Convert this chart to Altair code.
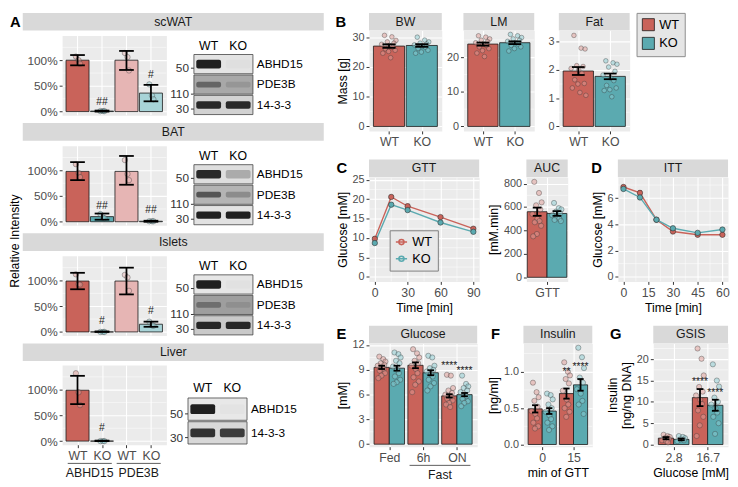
import altair as alt
import pandas as pd

FONT = "Liberation Sans"
RED, TEAL, PINK, LTEAL = "#C9635A", "#5BAAB0", "#E6B5B4", "#A8D4D8"
RED_PT, TEAL_PT = "#E09C96", "#8ACCD1"
STRIP_C, PANEL_C, LAB_C = "#D9D9D9", "#EBEBEB", "#4D4D4D"
JIT = [-0.55, 0.35, 0.85, -0.2, 0.6, -0.9, 0.05, 0.45, -0.45, 0.75, -0.05, -0.75, 0.2, 0.95, -0.3]

# ---------------- Panel A data ----------------
A_TISSUES = ["scWAT", "BAT", "Islets", "Liver"]
A_XLABELS = ["WT", "KO", "WT", "KO"]
A_GROUPS = ["ABHD15", "PDE3B"]
A_FILLS = [RED, TEAL, PINK, LTEAL]
A_PTFILLS = [RED_PT, TEAL_PT, "#E9B9B9", "#9FD0D4"]
A_MEAN = {"scWAT": [1.00, 0.01, 1.00, 0.36], "BAT": [0.98, 0.10, 0.98, 0.01],
          "Islets": [0.99, 0.00, 0.99, 0.15], "Liver": [0.99, 0.00]}
A_LO = {"scWAT": [0.90, 0.00, 0.81, 0.20], "BAT": [0.81, 0.04, 0.72, 0.00],
        "Islets": [0.83, 0.00, 0.73, 0.10], "Liver": [0.72, 0.00]}
A_HI = {"scWAT": [1.10, 0.02, 1.18, 0.52], "BAT": [1.16, 0.16, 1.28, 0.02],
        "Islets": [1.15, 0.01, 1.25, 0.20], "Liver": [1.27, 0.01]}
A_PTS = {"scWAT": [[1.07, 1.00, 0.93], [0.01, 0.01, 0.01], [1.14, 1.06, 0.80], [0.53, 0.31, 0.24]],
         "BAT": [[1.12, 0.95, 0.87], [0.15, 0.08, 0.07], [1.20, 0.93, 0.81], [0.01, 0.01, 0.01]],
         "Islets": [[1.12, 0.93, 0.92], [0.0, 0.0, 0.0], [1.11, 1.06, 0.80], [0.20, 0.13, 0.12]],
         "Liver": [[1.32, 0.95, 0.70], [0.0, 0.0, 0.0]]}
A_SIG = {"scWAT": [(2, "##", 0.19), (4, "#", 0.72)], "BAT": [(2, "##", 0.31), (4, "##", 0.22)],
         "Islets": [(2, "#", 0.22), (4, "#", 0.40)], "Liver": [(2, "#", 0.25)]}

BLOT_PROT = {"scWAT": ["ABHD15", "PDE3B", "14-3-3"], "BAT": ["ABHD15", "PDE3B", "14-3-3"],
             "Islets": ["ABHD15", "PDE3B", "14-3-3"], "Liver": ["ABHD15", "14-3-3"]}
BLOT_MW = {"ABHD15": "50", "PDE3B": "110", "14-3-3": "30"}
BLOT_WT = {"scWAT": [0.95, 0.45, 0.9], "BAT": [0.9, 0.6, 0.95], "Islets": [0.95, 0.35, 0.9], "Liver": [0.95, 0.85]}
BLOT_KO = {"scWAT": [0.02, 0.12, 0.9], "BAT": [0.25, 0.25, 0.95], "Islets": [0.02, 0.1, 0.9], "Liver": [0.02, 0.8]}
BLOT_BG = {"scWAT": ["#E4E4E4", "#A8A8A8", "#D2D2D2"], "BAT": ["#DEDEDE", "#B4B4B4", "#E2E2E2"],
           "Islets": ["#E6E6E6", "#9E9E9E", "#C9C9C9"], "Liver": ["#E8E8E8", "#D8D8D8"]}
BAND_H = {"ABHD15": 0.42, "PDE3B": 0.28, "14-3-3": 0.36}
MW_OFF = {"ABHD15": 0.3, "PDE3B": 0.03, "14-3-3": 0.3}

# ---------------- Panel B data ----------------
GENO = ["WT", "KO"]
BW_MEAN, BW_SE = [27.0, 27.2], [0.6, 0.45]
BW_WT = [30.6, 30.1, 28.9, 28.4, 28.0, 27.6, 27.2, 26.6, 26.1, 25.6, 25.2, 24.6, 23.1]
BW_KO = [30.0, 29.0, 28.4, 28.0, 27.7, 27.4, 27.0, 26.6, 26.2, 25.6, 25.0, 24.6]
LM_MEAN, LM_SE = [23.8, 24.2], [0.45, 0.4]
LM_WT = [26.2, 25.8, 25.3, 24.9, 24.5, 24.2, 23.8, 23.4, 23.0, 22.5, 21.9, 21.2, 20.2]
LM_KO = [26.6, 26.2, 25.7, 25.3, 24.9, 24.6, 24.2, 23.8, 23.4, 23.0, 22.5, 21.8]
FAT_MEAN, FAT_SE = [1.96, 1.77], [0.14, 0.10]
FAT_WT = [3.22, 2.77, 2.74, 2.15, 2.12, 2.05, 2.0, 1.88, 1.65, 1.52, 1.50, 1.36, 1.20, 1.10]
FAT_KO = [2.32, 2.25, 2.20, 2.10, 1.95, 1.82, 1.72, 1.62, 1.45, 1.36, 1.30, 1.27, 1.05]

# ---------------- Panel C / D data ----------------
GTT_T = [0, 15, 30, 60, 90]
GTT_WT, GTT_WT_SE = [9.8, 20.6, 18.2, 15.4, 12.4], [0.35, 0.4, 0.55, 0.4, 0.3]
GTT_KO, GTT_KO_SE = [8.7, 18.6, 17.2, 14.0, 11.6], [0.3, 0.45, 0.4, 0.35, 0.3]
AUC_MEAN, AUC_SE = [560, 545], [35, 20]
AUC_WT = [815, 720, 640, 615, 580, 540, 500, 480, 470, 440, 370, 350]
AUC_KO = [635, 590, 580, 560, 545, 530, 515, 500, 490, 480]
ITT_T = [0, 10, 20, 30, 45, 60]
ITT_WT, ITT_WT_SE = [6.85, 6.4, 4.35, 3.45, 3.2, 3.2], [0.12, 0.18, 0.1, 0.08, 0.06, 0.06]
ITT_KO, ITT_KO_SE = [6.7, 6.05, 4.35, 3.7, 3.35, 3.6], [0.1, 0.12, 0.1, 0.08, 0.07, 0.07]

# ---------------- Panel E / F / G data ----------------
E_CATS = ["Fed", "6h", "ON"]
E_WT_MEAN, E_WT_SE = [9.3, 9.55, 5.85], [0.2, 0.35, 0.2]
E_KO_MEAN, E_KO_SE = [9.2, 8.65, 6.0], [0.3, 0.3, 0.2]
E_WT_PTS = [[10.6, 10.3, 10.0, 9.8, 9.6, 9.5, 9.3, 9.1, 8.9, 8.6, 8.3, 8.0],
            [11.5, 11.0, 10.5, 10.1, 9.8, 9.5, 9.1, 8.6, 8.1, 7.6, 7.2, 6.3],
            [8.4, 8.3, 6.8, 6.5, 6.2, 6.0, 5.8, 5.7, 5.5, 5.3, 5.0, 4.8, 4.5]]
E_KO_PTS = [[11.1, 10.9, 10.5, 10.1, 9.8, 9.4, 9.0, 8.6, 8.2, 7.8, 7.5, 7.3],
            [10.7, 10.5, 9.5, 9.2, 9.0, 8.8, 8.5, 8.2, 7.8, 7.4, 7.0, 6.5],
            [8.3, 7.3, 7.0, 6.8, 6.5, 6.3, 6.0, 5.8, 5.5, 5.2, 5.0, 4.6]]
E_SIG = [(3, 0, "****", 9.5), (3, 1, "****", 8.9)]
F_CATS = ["0", "15"]
F_WT_MEAN, F_WT_SE = [0.49, 0.70], [0.05, 0.07]
F_KO_MEAN, F_KO_SE = [0.46, 0.82], [0.04, 0.08]
F_WT_PTS = [[0.85, 0.72, 0.65, 0.60, 0.52, 0.46, 0.42, 0.36, 0.30, 0.25, 0.22],
            [1.13, 1.00, 0.95, 0.90, 0.84, 0.74, 0.62, 0.55, 0.50, 0.45, 0.38]]
F_KO_PTS = [[0.70, 0.68, 0.62, 0.55, 0.50, 0.45, 0.40, 0.35, 0.30, 0.25, 0.20],
            [1.33, 1.20, 1.05, 0.92, 0.85, 0.76, 0.70, 0.60, 0.55, 0.42]]
F_SIG = [(2, 0, "**", 1.0), (2, 1, "****", 1.07)]
G_CATS = ["2.8", "16.7"]
G_WT_MEAN, G_WT_SE = [1.5, 11.0], [0.25, 2.0]
G_KO_MEAN, G_KO_SE = [1.2, 9.2], [0.2, 1.3]
G_WT_PTS = [[2.3, 2.0, 1.8, 1.5, 1.3, 1.0, 0.8, 0.5],
            [22.5, 20.1, 16.2, 13.5, 12.4, 11.5, 10.5, 9.5, 8.0, 6.5, 4.5, 2.0]]
G_KO_PTS = [[2.0, 1.8, 1.5, 1.2, 1.0, 0.8],
            [18.8, 15.0, 13.6, 11.0, 10.0, 9.4, 8.5, 7.5, 6.5, 5.0, 2.5]]
G_SIG = [(2, 0, "****", 14.7), (2, 1, "****", 12.1)]


# ---------------- helpers ----------------
def lab_expr(vals, labs):
    s = "''"
    for v, l in reversed(list(zip(vals, labs))):
        s = f"datum.value == {v} ? '{l}' : ({s})"
    return s


def qx(field, dom, axis=None):
    return alt.X(f"{field}:Q", scale=alt.Scale(domain=dom, nice=False, zero=False), axis=axis)


def qy(field, dom, axis=None):
    return alt.Y(f"{field}:Q", scale=alt.Scale(domain=dom, nice=False, zero=False), axis=axis)


def make_bars(xs, means, los, his, fills, half, cap, groups=None):
    rows = []
    for i, (x, m, lo, hi, f) in enumerate(zip(xs, means, los, his, fills)):
        r = dict(x=x, x1=x - half, x2=x + half, mean=m, lo=lo, hi=hi,
                 c1=x - cap, c2=x + cap, zero=0, fill=f)
        if groups:
            r["g"] = groups[i]
        rows.append(r)
    return pd.DataFrame(rows)


def make_pts(xs, lists, fills, spread):
    rows = []
    for x, vals, f in zip(xs, lists, fills):
        for k, v in enumerate(vals):
            rows.append(dict(x=x + JIT[k % len(JIT)] * spread, y=v, fill=f))
    return pd.DataFrame(rows)


def strip_layers(W, text, letter=None, lx=0):
    d = alt.Data(values=[{"t": text}])
    out = [
        alt.Chart(d).mark_rect(color=STRIP_C).encode(
            x=alt.value(0), x2=alt.value(W), y=alt.value(-18), y2=alt.value(0)),
        alt.Chart(d).mark_text(fontSize=12.5, color="#1A1A1A", baseline="middle").encode(
            x=alt.value(W / 2), y=alt.value(-9), text="t:N"),
    ]
    if letter:
        dl = alt.Data(values=[{"t": letter}])
        out.append(alt.Chart(dl).mark_text(fontSize=15, fontWeight="bold", align="left",
                                           baseline="middle", color="black").encode(
            x=alt.value(lx), y=alt.value(-9), text="t:N"))
    return out


def bar_panel(bars, pts, W, H, xdom, ydom, yvals, yminor, xvals, xlabs, strip=None, yfmt="d",
              ytitle=None, xtitle=None, show_x=True, letter=None, lx=0, stars=None, underline=None,
              pt_size=26, ylab_size=11, xlab_size=12.5, fill_legend=None, err_w=1.8):
    if show_x:
        xax = alt.Axis(values=list(xvals), labelExpr=lab_expr(xvals, xlabs), title=xtitle,
                       labelFontSize=xlab_size)
    else:
        xax = None
    yax = alt.Axis(values=list(yvals), format=yfmt, title=ytitle, labelFontSize=ylab_size)

    def X(f):
        return qx(f, xdom, xax)

    def Y(f):
        return qy(f, ydom, yax)

    layers = [alt.Chart(pd.DataFrame({"v": yminor})).mark_rule(color="white", strokeWidth=0.5)
              .encode(y=Y("v"))]
    if not show_x:
        layers.append(alt.Chart(pd.DataFrame({"v": list(xvals)})).mark_rule(color="white", strokeWidth=1.1)
                      .encode(x=X("v")))
    if fill_legend is not None:
        fill = alt.Fill("g:N", scale=alt.Scale(domain=GENO, range=[RED, TEAL]), legend=fill_legend)
    else:
        fill = alt.Fill("fill:N", scale=None)
    layers.append(alt.Chart(bars).mark_bar(stroke="#1A1A1A", strokeWidth=0.8).encode(
        x=X("x1"), x2="x2:Q", y=Y("mean"), y2="zero:Q", fill=fill))
    layers.append(alt.Chart(pts).mark_circle(size=pt_size, opacity=1, fillOpacity=0.5,
                                             stroke="#333333", strokeWidth=0.6, strokeOpacity=0.6)
                  .encode(x=X("x"), y=Y("y"), fill=alt.Fill("fill:N", scale=None)))
    layers.append(alt.Chart(bars).mark_rule(color="black", strokeWidth=err_w).encode(
        x=X("x"), y=Y("lo"), y2="hi:Q"))
    for yf in ["lo", "hi"]:
        layers.append(alt.Chart(bars).mark_rule(color="black", strokeWidth=err_w).encode(
            x=X("c1"), x2="c2:Q", y=Y(yf)))
    if stars is not None:
        layers.append(alt.Chart(stars).mark_text(fontSize=10.5, color="#222222", baseline="middle")
                      .encode(x=X("x"), y=Y("y"), text="s:N"))
    if underline is not None:
        ul, ry, ty = underline
        layers.append(alt.Chart(ul).mark_rule(color="#333333", strokeWidth=0.8).encode(
            x=X("x1"), x2="x2:Q", y=alt.value(H + ry)))
        layers.append(alt.Chart(ul).mark_text(fontSize=12.5, color="#1A1A1A", baseline="middle").encode(
            x=X("xm"), y=alt.value(H + ty), text="t:N"))
    if strip:
        layers += strip_layers(W, strip, letter, lx)
    return alt.layer(*layers).properties(width=W, height=H)


def line_panel(df, W, H, xdom, ydom, xvals, yvals, xminor, yminor, strip, letter, lx,
               ytitle, xtitle, cap, legend=None):
    xax = alt.Axis(values=list(xvals), title=xtitle, labelFontSize=12.5)
    yax = alt.Axis(values=list(yvals), title=ytitle, labelFontSize=11)

    def X(f):
        return qx(f, xdom, xax)

    def Y(f):
        return qy(f, ydom, yax)

    lit = alt.Color("col:N", scale=None)
    if legend is not None:
        col = alt.Color("gl:N", scale=alt.Scale(domain=["wt", "ko"], range=[RED, TEAL]), legend=legend)
    else:
        col = lit
    d = df.copy()
    d["c1"] = d["t"] - cap
    d["c2"] = d["t"] + cap
    layers = [
        alt.Chart(pd.DataFrame({"v": yminor})).mark_rule(color="white", strokeWidth=0.5).encode(y=Y("v")),
        alt.Chart(pd.DataFrame({"v": xminor})).mark_rule(color="white", strokeWidth=0.5).encode(x=X("v")),
        alt.Chart(d).mark_rule(strokeWidth=0.8).encode(x=X("t"), y=Y("lo"), y2="hi:Q", color=lit),
        alt.Chart(d).mark_rule(strokeWidth=0.8).encode(x=X("c1"), x2="c2:Q", y=Y("hi"), color=lit),
        alt.Chart(d).mark_rule(strokeWidth=0.8).encode(x=X("c1"), x2="c2:Q", y=Y("lo"), color=lit),
        alt.Chart(d).mark_line(strokeWidth=1.4).encode(x=X("t"), y=Y("m"), color=col),
        alt.Chart(d).mark_circle(size=30, opacity=1, stroke="#333333", strokeWidth=0.6).encode(
            x=X("t"), y=Y("m"), fill=alt.Fill("col:N", scale=None)),
    ]
    layers += strip_layers(W, strip, letter, lx)
    return alt.layer(*layers).properties(width=W, height=H)


def line_df(ts, wt, wt_se, ko, ko_se):
    rows = []
    for g, m, se, c in [("WT", wt, wt_se, RED), ("KO", ko, ko_se, TEAL)]:
        for t, v, s in zip(ts, m, se):
            rows.append(dict(t=t, m=v, lo=v - s, hi=v + s, g=g, gl=g.lower(), col=c))
    return pd.DataFrame(rows)


def blot_chart(tissue, H, W=60):
    prots = BLOT_PROT[tissue]
    n = len(prots)
    top = n + (0.9 if n == 3 else 1.36)
    boxes, bands, rl, mw, tops = [], [], [], [], []
    for i, p in enumerate(prots):
        r = n - 1 - i
        boxes.append(dict(x1=0, x2=2, y1=r + 0.03, y2=r + 0.97, bg=BLOT_BG[tissue][i]))
        bh = BAND_H[p]
        for j, op in enumerate([BLOT_WT[tissue][i], BLOT_KO[tissue][i]]):
            bands.append(dict(x1=j + 0.08, x2=j + 0.92, y1=r + 0.5 - bh / 2, y2=r + 0.5 + bh / 2, op=op))
        rl.append(dict(x=2, y=r + 0.5, t=p))
        mw.append(dict(x=0, xt=-0.1, y=r + MW_OFF[p], t=BLOT_MW[p]))
    for j, l in enumerate(["WT", "KO"]):
        tops.append(dict(x=j + 0.5, y=n + 0.38, t=l))
    xd, yd = [0, 2], [0, top]
    layers = [
        alt.Chart(pd.DataFrame(boxes)).mark_rect(stroke="#444444", strokeWidth=0.8).encode(
            x=qx("x1", xd), x2="x2:Q", y=qy("y1", yd), y2="y2:Q", fill=alt.Fill("bg:N", scale=None)),
        alt.Chart(pd.DataFrame(bands)).mark_rect(cornerRadius=2, color="#151515").encode(
            x=qx("x1", xd), x2="x2:Q", y=qy("y1", yd), y2="y2:Q", opacity=alt.Opacity("op:Q", scale=None)),
        alt.Chart(pd.DataFrame(rl)).mark_text(align="left", dx=4, fontSize=12, color="black", baseline="middle").encode(
            x=qx("x", xd), y=qy("y", yd), text="t:N"),
        alt.Chart(pd.DataFrame(mw)).mark_text(align="right", dx=-5, fontSize=12, color="#333333", baseline="middle").encode(
            x=qx("x", xd), y=qy("y", yd), text="t:N"),
        alt.Chart(pd.DataFrame(mw)).mark_rule(color="#333333").encode(
            x=qx("xt", xd), x2="x:Q", y=qy("y", yd)),
        alt.Chart(pd.DataFrame(tops)).mark_text(fontSize=12.5, color="black", baseline="middle").encode(
            x=qx("x", xd), y=qy("y", yd), text="t:N"),
    ]
    return alt.layer(*layers).properties(width=W, height=H,
                                         view=alt.ViewBackground(fill="white", stroke="transparent"))


# ---------------- Panel A ----------------
A_W, A_H = 106, 81
STRIP_L, STRIP_R = -40, 266
A_XS = [1, 2, 3, 4]
A_XDOM, A_YDOM = [0.37, 4.63], [-0.07, 1.48]
blocks = []
for tis in A_TISSUES:
    k = len(A_MEAN[tis])
    bars = make_bars(A_XS[:k], A_MEAN[tis], A_LO[tis], A_HI[tis], A_FILLS[:k], 0.47, 0.3)
    pts = make_pts(A_XS[:k], A_PTS[tis], A_PTFILLS[:k], 0.12)
    sig = pd.DataFrame([dict(x=i, s=s, y=y) for i, s, y in A_SIG[tis]])
    liver = tis == "Liver"
    ul = None
    if liver:
        ul = (pd.DataFrame({"x1": [0.6, 2.6], "x2": [2.4, 4.4], "xm": [1.5, 3.5], "t": A_GROUPS}), 19, 29)
    bar = bar_panel(bars, pts, A_W, A_H, A_XDOM, A_YDOM, [0, 0.5, 1.0], [0.25, 0.75, 1.25],
                    A_XS, A_XLABELS, yfmt=".0%", show_x=liver, stars=sig, underline=ul,
                    pt_size=30, ylab_size=12)
    sd = alt.Data(values=[{"t": tis}])
    strip = alt.layer(
        alt.Chart(sd).mark_rect(color=STRIP_C).encode(
            x=alt.value(STRIP_L), x2=alt.value(STRIP_R), y=alt.value(-18), y2=alt.value(0)),
        alt.Chart(sd).mark_text(fontSize=12.5, color="#1A1A1A", baseline="middle").encode(
            x=alt.value((STRIP_L + STRIP_R) / 2), y=alt.value(-9), text="t:N"),
    ).properties(width=A_W, height=1, view=alt.ViewBackground(fill="transparent", stroke="transparent"))
    row = alt.hconcat(bar, blot_chart(tis, A_H), spacing=2)
    blocks.append(alt.vconcat(strip, row, spacing=1))

a_blocks = alt.vconcat(*blocks, spacing=4)
gut = alt.layer(
    alt.Chart(alt.Data(values=[{"t": "A"}])).mark_text(
        fontSize=15, fontWeight="bold", align="left", baseline="middle", color="black").encode(
        x=alt.value(0), y=alt.value(-9), text="t:N"),
    alt.Chart(alt.Data(values=[{"t": "Relative Intensity"}])).mark_text(
        fontSize=12.5, angle=270, baseline="middle", color="black").encode(
        x=alt.value(5), y=alt.value(214), text="t:N"),
).properties(width=10, height=300, view=alt.ViewBackground(fill="transparent", stroke="transparent"))
a_col = alt.hconcat(gut, a_blocks, spacing=0)

# ---------------- Panel B ----------------
B_H = 102
B_XDOM = [0.39, 2.61]


def b_panel(mean, se, wt, ko, W, ydom, yvals, yminor, strip, letter=None, lx=0, ytitle=None, legend=None):
    bars = make_bars([1, 2], mean, [m - s for m, s in zip(mean, se)], [m + s for m, s in zip(mean, se)],
                     [RED, TEAL], 0.475, 0.2, groups=GENO)
    pts = make_pts([1, 2], [wt, ko], [RED_PT, TEAL_PT], 0.25)
    return bar_panel(bars, pts, W, B_H, B_XDOM, ydom, yvals, yminor, [1, 2], GENO, strip=strip,
                     ytitle=ytitle, letter=letter, lx=lx, pt_size=22, fill_legend=legend)


legB = alt.Legend(title=None, orient="none", legendX=637, legendY=-18, fillColor="#E5E5E5",
                  strokeColor="#8C8C8C", padding=5, symbolType="square", symbolSize=150,
                  symbolStrokeColor="#333333", symbolStrokeWidth=0.8, labelFontSize=13,
                  labelColor="black", rowPadding=3)
bw = b_panel(BW_MEAN, BW_SE, BW_WT, BW_KO, 74, [-1.5, 32.2], [0, 10, 20, 30], [5, 15, 25], "BW",
             letter="B", lx=-34, ytitle="Mass [g]")
lm = b_panel(LM_MEAN, LM_SE, LM_WT, LM_KO, 72, [-1.3, 27.7], [0, 10, 20], [5, 15, 25], "LM")
fat = b_panel(FAT_MEAN, FAT_SE, FAT_WT, FAT_KO, 72, [-0.16, 3.39], [0, 1, 2, 3], [0.5, 1.5, 2.5], "Fat",
              legend=legB)
rowB = alt.hconcat(alt.hconcat(bw, lm, spacing=3), fat, spacing=12)

# ---------------- Panel C / D ----------------
CD_H = 106
legC = alt.Legend(title=None, orient="none", legendX=386, legendY=203, fillColor="#E8E8E8",
                  strokeColor="#7F7F7F", padding=5, labelFontSize=13, labelColor="black",
                  labelExpr="datum.label == 'wt' ? 'WT' : 'KO'",
                  symbolType="M-1,0H1M0.45,0A0.45,0.45,0,1,1,-0.45,0A0.45,0.45,0,1,1,0.45,0",
                  symbolSize=130, symbolStrokeWidth=1.6, rowPadding=3)
gtt = line_panel(line_df(GTT_T, GTT_WT, GTT_WT_SE, GTT_KO, GTT_KO_SE), 112, CD_H, [-5.3, 95.3], [-1.2, 25.7],
                 [0, 30, 60, 90], [0, 5, 10, 15, 20, 25], [15, 45, 75], [2.5, 7.5, 12.5, 17.5, 22.5],
                 "GTT", "C", -33, "Glucose [mM]", "Time [min]", 1.8, legend=legC)
auc_bars = make_bars([0.775, 1.225], AUC_MEAN, [m - s for m, s in zip(AUC_MEAN, AUC_SE)],
                     [m + s for m, s in zip(AUC_MEAN, AUC_SE)], [RED, TEAL], 0.225, 0.1)
auc_pts = make_pts([0.775, 1.225], [AUC_WT, AUC_KO], [RED_PT, TEAL_PT], 0.12)
auc = bar_panel(auc_bars, auc_pts, 42, CD_H, [0.53, 1.47], [-35, 855], [0, 200, 400, 600, 800],
                [100, 300, 500, 700], [1], ["GTT"], strip="AUC", ytitle="[mM.min]", pt_size=28)
itt = line_panel(line_df(ITT_T, ITT_WT, ITT_WT_SE, ITT_KO, ITT_KO_SE), 112, CD_H, [-3.4, 63.4], [-0.36, 7.6],
                 [0, 15, 30, 45, 60], [0, 2, 4, 6], [7.5, 22.5, 37.5, 52.5], [1, 3, 5, 7],
                 "ITT", "D", -27, "Glucose [mM]", "Time [min]", 1.2)
rowCD = alt.hconcat(alt.hconcat(gtt, auc, spacing=6), itt, spacing=22)

# ---------------- Panel E / F / G ----------------
EFG_H = 105


def grouped(ncat, wt_m, wt_se, ko_m, ko_se, wt_pts, ko_pts, sig):
    xs, means, los, his, fills, lists, pfills = [], [], [], [], [], [], []
    for i in range(ncat):
        c = i + 1
        for dx, m, se, pl, f, pf in [(-0.225, wt_m[i], wt_se[i], wt_pts[i], RED, RED_PT),
                                     (0.225, ko_m[i], ko_se[i], ko_pts[i], TEAL, TEAL_PT)]:
            xs.append(c + dx); means.append(m); los.append(m - se); his.append(m + se)
            fills.append(f); lists.append(pl); pfills.append(pf)
    bars = make_bars(xs, means, los, his, fills, 0.225, 0.1)
    pts = make_pts(xs, lists, pfills, 0.13)
    st = pd.DataFrame([dict(x=c + (-0.225 if g == 0 else 0.225), s=s, y=y) for c, g, s, y in sig])
    return bars, pts, st


eb, ep, es = grouped(3, E_WT_MEAN, E_WT_SE, E_KO_MEAN, E_KO_SE, E_WT_PTS, E_KO_PTS, E_SIG)
fast = (pd.DataFrame({"x1": [1.6], "x2": [3.4], "xm": [2.5], "t": ["Fast"]}), 19, 29)
e_chart = bar_panel(eb, ep, 110, EFG_H, [0.4, 3.6], [-0.3, 12.2], [0, 3, 6, 9, 12], [1.5, 4.5, 7.5, 10.5],
                    [1, 2, 3], E_CATS, strip="Glucose", ytitle="[mM]", letter="E", lx=-33, stars=es,
                    underline=fast, pt_size=28)
fb, fp, fs = grouped(2, F_WT_MEAN, F_WT_SE, F_KO_MEAN, F_KO_SE, F_WT_PTS, F_KO_PTS, F_SIG)
f_chart = bar_panel(fb, fp, 70, EFG_H, [0.4, 2.6], [-0.03, 1.39], [0.0, 0.5, 1.0], [0.25, 0.75, 1.25],
                    [1, 2], F_CATS, strip="Insulin", yfmt=".1f", ytitle="[ng/ml]", xtitle="min of GTT",
                    letter="F", lx=-33, stars=fs, pt_size=28)
gb, gp, gs = grouped(2, G_WT_MEAN, G_WT_SE, G_KO_MEAN, G_KO_SE, G_WT_PTS, G_KO_PTS, G_SIG)
g_chart = bar_panel(gb, gp, 76, EFG_H, [0.4, 2.6], [-0.5, 23.7], [0, 5, 10, 15, 20], [2.5, 7.5, 12.5, 17.5, 22.5],
                    [1, 2], G_CATS, strip="GSIS", ytitle=["Insulin", "[ng/ng DNA]"], xtitle="Glucose [mM]",
                    letter="G", lx=-44, stars=gs, pt_size=28)
rowEFG = alt.hconcat(alt.hconcat(e_chart, f_chart, spacing=9), g_chart, spacing=12)

right = alt.vconcat(rowB, rowCD, rowEFG, spacing=10)

chart = alt.hconcat(a_col, right, spacing=10).properties(padding=0).configure(
    font=FONT
).configure_view(
    fill=PANEL_C, stroke="transparent"
).configure_axis(
    domain=False, grid=True, gridColor="white", gridWidth=1.1, tickColor="#333333", tickSize=3,
    tickWidth=1, labelColor=LAB_C, labelFont=FONT, labelFontSize=11, titleFont=FONT,
    titleFontSize=12.5, titleFontWeight="normal", titleColor="black", labelPadding=2, titlePadding=3
).configure_text(font=FONT)

chart.save("out.html", embed_options={"renderer": "svg", "actions": False})
